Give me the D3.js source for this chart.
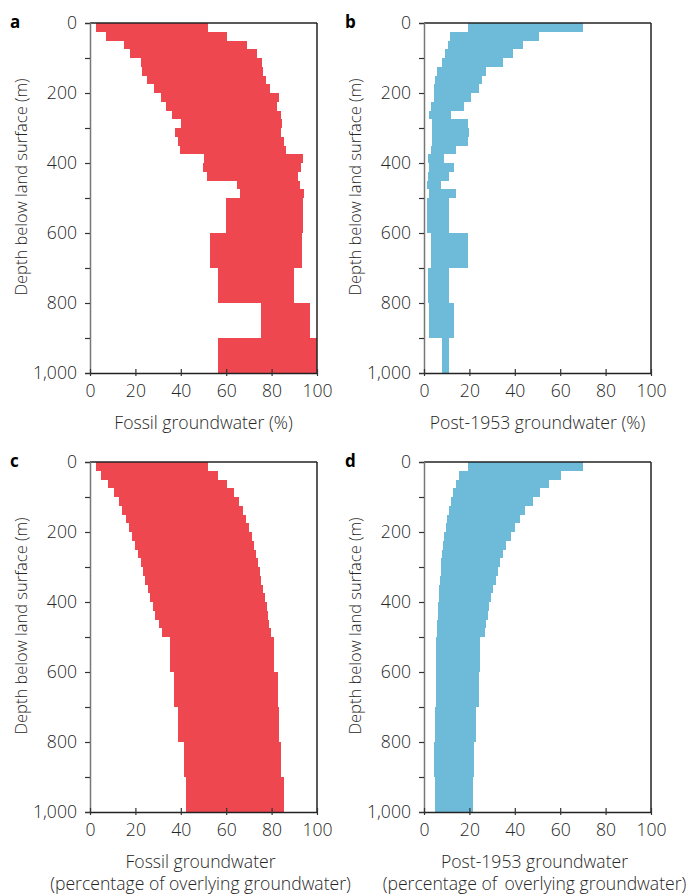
<!DOCTYPE html>
<html>
<head>
<meta charset="utf-8">
<script src="https://cdn.jsdelivr.net/npm/d3@7.9.0/dist/d3.min.js"></script>
<style>
  body { margin: 0; background: #fff; }
  svg text { font-family: "Open Sans", "Noto Sans", sans-serif; font-weight: 300; fill: #262626; }
</style>
</head>
<body>
<svg id="chart" width="687" height="894"></svg>
<script>
// depth bin edges (m): 25 m steps to 500 m, then 100 m steps
const binEdges = [0, 25, 50, 75, 100, 125, 150, 175, 200, 225, 250, 275, 300, 325, 350, 375, 400, 425, 450, 475, 500, 600, 700, 800, 900, 1000];

// a: fossil groundwater (%)
const fossilMin = [2.6, 6.9, 15.0, 17.6, 22.3, 22.7, 25.3, 28.2, 31.4, 33.5, 36.0, 40.1, 37.3, 38.8, 39.6, 50.2, 49.6, 51.5, 64.6, 66.1, 60.1, 53.0, 56.3, 75.2, 56.6];
const fossilMax = [52.2, 60.5, 69.0, 73.4, 75.9, 76.3, 77.4, 79.4, 83.4, 82.4, 84.1, 84.4, 84.1, 85.6, 86.2, 93.7, 92.8, 91.8, 92.4, 94.1, 93.7, 93.4, 89.9, 97.1, 100];

// b: post-1953 groundwater (%)
const youngMin = [19.3, 11.5, 10.6, 9.2, 7.9, 5.8, 4.9, 4.6, 4.6, 3.3, 2.1, 3.6, 3.6, 3.5, 3.2, 1.7, 2.1, 1.8, 1.2, 2.1, 1.4, 3.0, 1.7, 2.1, 7.9];
const youngMax = [70.0, 50.7, 43.5, 39.1, 34.7, 27.1, 25.6, 24.3, 20.6, 17.7, 11.7, 19.2, 19.9, 19.2, 13.9, 8.6, 13.3, 11.1, 7.6, 14.0, 10.8, 19.5, 10.8, 13.1, 10.9];

// c: fossil groundwater, percentage of overlying groundwater
const fossilCumMin = [2.6, 4.7, 8.1, 10.6, 12.8, 14.2, 15.7, 17.0, 18.4, 19.7, 21.0, 22.3, 23.5, 24.4, 25.4, 26.6, 27.6, 28.6, 30.3, 31.7, 35.4, 37.1, 38.9, 41.5, 42.4];
const fossilCumMax = [52.2, 56.3, 60.5, 63.6, 65.8, 67.5, 68.9, 70.0, 71.2, 72.4, 73.3, 74.0, 74.8, 75.5, 76.2, 77.1, 77.8, 78.6, 79.0, 79.6, 81.2, 82.6, 83.2, 84.1, 85.3];

// d: post-1953 groundwater, percentage of overlying groundwater
const youngCumMin = [19.3, 15.5, 13.9, 12.8, 11.8, 10.9, 10.1, 9.5, 9.0, 8.5, 8.0, 7.7, 7.4, 7.1, 6.8, 6.5, 6.2, 6.1, 5.9, 5.6, 5.4, 5.1, 4.8, 4.3, 4.8];
const youngCumMax = [70.0, 60.4, 55.1, 51.3, 48.1, 44.7, 42.4, 40.2, 38.2, 36.3, 34.6, 33.3, 32.4, 31.5, 30.6, 29.6, 28.7, 28.0, 27.1, 26.7, 24.6, 24.1, 22.8, 22.2, 21.5];

const xTicks = [0, 20, 40, 60, 80, 100];
const yTicks = [0, 100, 200, 300, 400, 500, 600, 700, 800, 900, 1000];
const yLabelTicks = [0, 200, 400, 600, 800, 1000];

const red = '#ef4750';
const blue = '#6dbad9';

const panels = [
  { letter: 'a', left: 90, top: 23, lo: fossilMin, hi: fossilMax, color: red, title: ['Fossil groundwater (%)'] },
  { letter: 'b', left: 424, top: 23, lo: youngMin, hi: youngMax, color: blue, title: ['Post-1953 groundwater (%)'] },
  { letter: 'c', left: 90, top: 462, lo: fossilCumMin, hi: fossilCumMax, color: red, title: ['Fossil groundwater', '(percentage of overlying groundwater)'] },
  { letter: 'd', left: 424, top: 462, lo: youngCumMin, hi: youngCumMax, color: blue, title: ['Post-1953 groundwater', '(percentage of\u2009 overlying groundwater)'] },
];

const W = 227, H = 350;
const fs = '17.6px';
const svg = d3.select('#chart');

panels.forEach(p => {
  const x = d3.scaleLinear().domain([0, 100]).range([0, W]);
  const y = d3.scaleLinear().domain([0, 1000]).range([0, H]);
  const g = svg.append('g').attr('transform', `translate(${p.left},${p.top})`);

  const bins = p.lo.map((v, i) => ({ lo: v, hi: p.hi[i], d0: binEdges[i], d1: binEdges[i + 1] }));

  g.selectAll('rect.bar')
    .data(bins)
    .enter()
    .append('rect')
    .attr('class', 'bar')
    .attr('x', d => x(d.lo))
    .attr('width', d => x(d.hi) - x(d.lo))
    .attr('y', d => y(d.d0))
    .attr('height', d => y(d.d1) - y(d.d0))
    .attr('fill', p.color)
    .attr('shape-rendering', 'crispEdges');

  // frame: top and right
  g.append('line').attr('x1', 0).attr('x2', W).attr('y1', 0).attr('y2', 0)
    .attr('stroke', '#222').attr('stroke-width', 1.5);
  g.append('line').attr('x1', W).attr('x2', W).attr('y1', 0).attr('y2', H)
    .attr('stroke', '#222').attr('stroke-width', 1.5);

  // y axis
  const yAxis = g.append('g')
    .call(d3.axisLeft(y).tickValues(yTicks).tickSize(5)
      .tickFormat(d => yLabelTicks.includes(d) ? d3.format(',')(d) : ''));
  yAxis.select('.domain').attr('stroke', '#777').attr('stroke-width', 1.5);
  yAxis.selectAll('.tick line').attr('stroke', '#333').attr('stroke-width', 1.2);
  yAxis.selectAll('.tick text').attr('x', -13).style('font-size', fs).style('font-family', null);

  // x axis
  const xAxis = g.append('g').attr('transform', `translate(0,${H})`)
    .call(d3.axisBottom(x).tickValues(xTicks).tickSize(0));
  xAxis.select('.domain').attr('stroke', '#222').attr('stroke-width', 1.5);
  xAxis.selectAll('.tick line').attr('y1', -4).attr('y2', 3)
    .attr('stroke', '#333').attr('stroke-width', 1.2);
  xAxis.selectAll('.tick text').attr('y', 12).style('font-size', fs).style('font-family', null);

  // y title
  g.append('text')
    .attr('transform', `translate(${-63},${H / 2 - 11}) rotate(-90)`)
    .attr('text-anchor', 'middle')
    .style('font-size', '16.5px')
    .text('Depth below land surface (m)');

  // x title
  p.title.forEach((t, i) => {
    g.append('text')
      .attr('x', p.title.length > 1 ? W / 2 - 3 : W / 2)
      .attr('y', H + 56 + i * 22)
      .attr('text-anchor', 'middle')
      .style('font-size', fs)
      .text(t);
  });

  // panel letter
  g.append('text')
    .attr('x', p.left === 90 ? -80 : -79)
    .attr('y', 5)
    .style('font-size', '17px')
    .style('font-weight', 'bold')
    .style('fill', '#000')
    .text(p.letter);
});
</script>
</body>
</html>
